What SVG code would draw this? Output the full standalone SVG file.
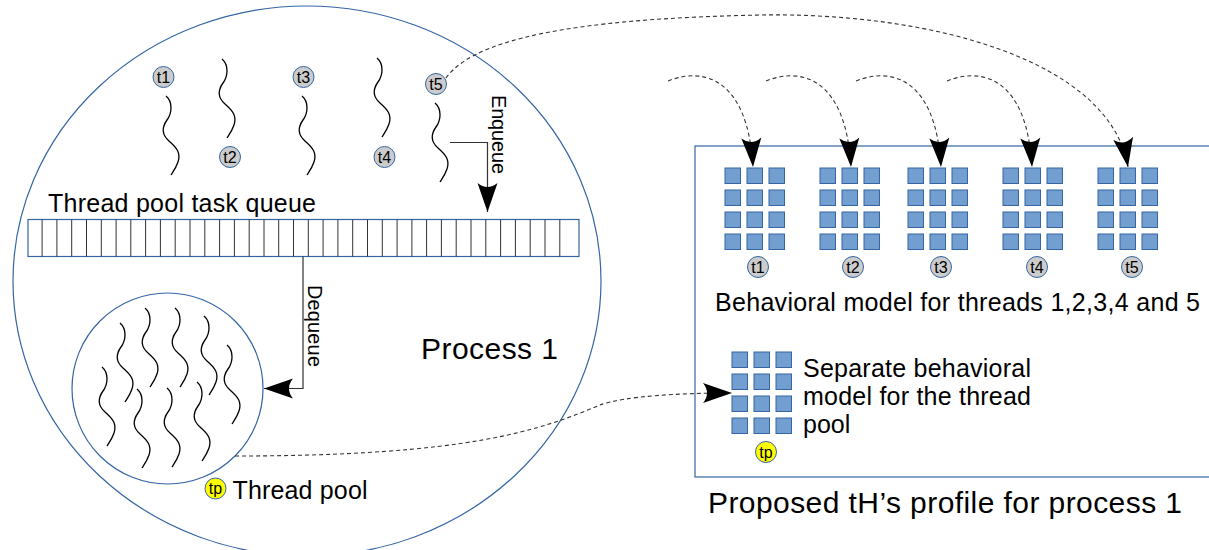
<svg xmlns="http://www.w3.org/2000/svg" xmlns:xlink="http://www.w3.org/1999/xlink" width="1209" height="550" viewBox="0 0 1209 550">
<style>
.blue{fill:none;stroke:#3465a4;stroke-width:1.2}
.wave{fill:none;stroke:#000;stroke-width:1.3}
.sq{fill:#729fcf;stroke:#3465a4;stroke-width:1}
.tc{fill:#cccccc;stroke:#3465a4;stroke-width:1}
.tpc{fill:#ffff00;stroke:#3465a4;stroke-width:1}
.lbl{font-family:"Liberation Sans",Arial,sans-serif;font-size:16px;fill:#000;text-anchor:middle}
.txt{font-family:"Liberation Sans",Arial,sans-serif;fill:#000}
.dash{fill:none;stroke:#333;stroke-width:1.1;stroke-dasharray:4 3}
.solid{fill:none;stroke:#333;stroke-width:1.2}
.cell{stroke:#333;stroke-width:1}
</style>
<defs>
<path id="wave" class="wave" d="M0,0 C7,6 6,17 1,24 C-4,31 -5,38 3,45 C11,52 15,57 12,66 C10,72 7,76 5,79"/>
<g id="grid">
<rect class="sq" x="0" y="0" width="15.5" height="15.5"/><rect class="sq" x="22" y="0" width="15.5" height="15.5"/><rect class="sq" x="44" y="0" width="15.5" height="15.5"/>
<rect class="sq" x="0" y="22" width="15.5" height="15.5"/><rect class="sq" x="22" y="22" width="15.5" height="15.5"/><rect class="sq" x="44" y="22" width="15.5" height="15.5"/>
<rect class="sq" x="0" y="44" width="15.5" height="15.5"/><rect class="sq" x="22" y="44" width="15.5" height="15.5"/><rect class="sq" x="44" y="44" width="15.5" height="15.5"/>
<rect class="sq" x="0" y="66" width="15.5" height="15.5"/><rect class="sq" x="22" y="66" width="15.5" height="15.5"/><rect class="sq" x="44" y="66" width="15.5" height="15.5"/>
</g>
<marker id="ah" markerUnits="userSpaceOnUse" markerWidth="32" markerHeight="24" viewBox="-30 -12 32 24" refX="0" refY="0" orient="auto">
<path d="M0,0 L-29,-10 Q-21,0 -29,10 Z" fill="#000"/>
</marker>
</defs>

<g id="process1">
<ellipse class="blue" cx="307" cy="281" rx="294" ry="275"/>
<text class="txt" x="421" y="359" font-size="30" textLength="137">Process 1</text>
</g>

<g id="queue">
<rect x="28" y="219.5" width="551" height="37" fill="#fff" stroke="#3465a4" stroke-width="1.2"/>
<g class="cell">
<line x1="42.1" y1="219.5" x2="42.1" y2="256.5"/><line x1="56.9" y1="219.5" x2="56.9" y2="256.5"/><line x1="71.7" y1="219.5" x2="71.7" y2="256.5"/><line x1="86.5" y1="219.5" x2="86.5" y2="256.5"/><line x1="101.3" y1="219.5" x2="101.3" y2="256.5"/><line x1="116.1" y1="219.5" x2="116.1" y2="256.5"/><line x1="130.8" y1="219.5" x2="130.8" y2="256.5"/><line x1="145.6" y1="219.5" x2="145.6" y2="256.5"/><line x1="160.4" y1="219.5" x2="160.4" y2="256.5"/><line x1="175.2" y1="219.5" x2="175.2" y2="256.5"/><line x1="190.0" y1="219.5" x2="190.0" y2="256.5"/><line x1="204.8" y1="219.5" x2="204.8" y2="256.5"/><line x1="219.6" y1="219.5" x2="219.6" y2="256.5"/><line x1="234.4" y1="219.5" x2="234.4" y2="256.5"/><line x1="249.2" y1="219.5" x2="249.2" y2="256.5"/><line x1="264.0" y1="219.5" x2="264.0" y2="256.5"/><line x1="278.7" y1="219.5" x2="278.7" y2="256.5"/><line x1="293.5" y1="219.5" x2="293.5" y2="256.5"/><line x1="308.3" y1="219.5" x2="308.3" y2="256.5"/><line x1="323.1" y1="219.5" x2="323.1" y2="256.5"/><line x1="337.9" y1="219.5" x2="337.9" y2="256.5"/><line x1="352.7" y1="219.5" x2="352.7" y2="256.5"/><line x1="367.5" y1="219.5" x2="367.5" y2="256.5"/><line x1="382.3" y1="219.5" x2="382.3" y2="256.5"/><line x1="397.1" y1="219.5" x2="397.1" y2="256.5"/><line x1="411.9" y1="219.5" x2="411.9" y2="256.5"/><line x1="426.6" y1="219.5" x2="426.6" y2="256.5"/><line x1="441.4" y1="219.5" x2="441.4" y2="256.5"/><line x1="456.2" y1="219.5" x2="456.2" y2="256.5"/><line x1="471.0" y1="219.5" x2="471.0" y2="256.5"/><line x1="485.8" y1="219.5" x2="485.8" y2="256.5"/><line x1="500.6" y1="219.5" x2="500.6" y2="256.5"/><line x1="515.4" y1="219.5" x2="515.4" y2="256.5"/><line x1="530.2" y1="219.5" x2="530.2" y2="256.5"/><line x1="545.0" y1="219.5" x2="545.0" y2="256.5"/><line x1="559.8" y1="219.5" x2="559.8" y2="256.5"/>
</g>
<text class="txt" x="48" y="211.7" font-size="25" textLength="268">Thread pool task queue</text>
</g>

<g id="t1">
<use xlink:href="#wave" x="166" y="96"/>
<circle class="tc" cx="163.5" cy="77" r="10.5"/><text class="lbl" x="163.5" y="82.5">t1</text>
</g>
<g id="t2">
<use xlink:href="#wave" x="222" y="59"/>
<circle class="tc" cx="230" cy="157" r="10.5"/><text class="lbl" x="230" y="162.5">t2</text>
</g>
<g id="t3">
<use xlink:href="#wave" x="302" y="96"/>
<circle class="tc" cx="303.5" cy="77" r="10.5"/><text class="lbl" x="303.5" y="82.5">t3</text>
</g>
<g id="t4">
<use xlink:href="#wave" x="377" y="58"/>
<circle class="tc" cx="384.5" cy="157" r="10.5"/><text class="lbl" x="384.5" y="162.5">t4</text>
</g>
<g id="t5">
<use xlink:href="#wave" x="435" y="103"/>
<circle class="tc" cx="436" cy="84" r="10.5"/><text class="lbl" x="436" y="89.5">t5</text>
</g>

<g id="threadpool">
<circle class="blue" cx="167.5" cy="388.5" r="95.5"/>
<use xlink:href="#wave" x="120" y="323"/>
<use xlink:href="#wave" x="145" y="308"/>
<use xlink:href="#wave" x="175" y="308"/>
<use xlink:href="#wave" x="204" y="316"/>
<use xlink:href="#wave" x="227" y="345"/>
<use xlink:href="#wave" x="102" y="367"/>
<use xlink:href="#wave" x="137" y="389"/>
<use xlink:href="#wave" x="167" y="388"/>
<use xlink:href="#wave" x="197" y="382"/>
<circle class="tpc" cx="215.5" cy="488.5" r="10.5"/><text class="lbl" x="215.5" y="494">tp</text>
<text class="txt" x="232.5" y="498.5" font-size="25" textLength="135">Thread pool</text>
</g>

<g id="profile">
<rect class="blue" x="695" y="146" width="600" height="331"/>
<text class="txt" x="708" y="513" font-size="30" textLength="474">Proposed tH’s profile for process 1</text>
</g>

<g id="model-t1"><use xlink:href="#grid" x="725" y="168"/><circle class="tc" cx="758" cy="267" r="10.5"/><text class="lbl" x="758" y="272.5">t1</text></g>
<g id="model-t2"><use xlink:href="#grid" x="820" y="168"/><circle class="tc" cx="853" cy="267" r="10.5"/><text class="lbl" x="853" y="272.5">t2</text></g>
<g id="model-t3"><use xlink:href="#grid" x="908" y="168"/><circle class="tc" cx="941" cy="267" r="10.5"/><text class="lbl" x="941" y="272.5">t3</text></g>
<g id="model-t4"><use xlink:href="#grid" x="1003" y="168"/><circle class="tc" cx="1037" cy="267" r="10.5"/><text class="lbl" x="1037" y="272.5">t4</text></g>
<g id="model-t5"><use xlink:href="#grid" x="1098" y="168"/><circle class="tc" cx="1132" cy="267" r="10.5"/><text class="lbl" x="1132" y="272.5">t5</text></g>
<g id="behavioral-label">
<text class="txt" x="715" y="311" font-size="25" textLength="485">Behavioral model for threads 1,2,3,4 and 5</text>
</g>

<g id="model-tp">
<use xlink:href="#grid" x="732" y="352"/>
<circle class="tpc" cx="766" cy="452" r="10.5"/><text class="lbl" x="766" y="457.5">tp</text>
<text class="txt" font-size="25"><tspan x="803" y="377" textLength="228">Separate behavioral</tspan><tspan x="803" y="405" textLength="228">model for the thread</tspan><tspan x="803" y="433">pool</tspan></text>
</g>

<g id="connectors">
<path class="solid" d="M450,142.5 H487.5 V212" marker-end="url(#ah)"/>
<text class="txt" font-size="20" transform="translate(491.5,95) rotate(90)" textLength="79">Enqueue</text>
<path class="solid" d="M303,256.5 V388.5 H264" marker-end="url(#ah)"/>
<text class="txt" font-size="20" transform="translate(308,285) rotate(90)" textLength="82">Dequeue</text>
<path class="dash" d="M235,456 C470,456 540,430 600,405 C625,396 680,393 732,393" marker-end="url(#ah)"/>
<path class="dash" d="M446,78 C480,30 620,18 760,15 C930,12 1110,60 1128,167" marker-end="url(#ah)"/>
<path class="dash" d="M668,81 C705,66 748,80 753,167" marker-end="url(#ah)"/>
<path class="dash" d="M668,81 C705,66 748,80 753,167" transform="translate(98,0)" marker-end="url(#ah)"/>
<path class="dash" d="M668,81 C705,66 748,80 753,167" transform="translate(188,0)" marker-end="url(#ah)"/>
<path class="dash" d="M668,81 C705,66 748,80 753,167" transform="translate(279,0)" marker-end="url(#ah)"/>
</g>
</svg>
